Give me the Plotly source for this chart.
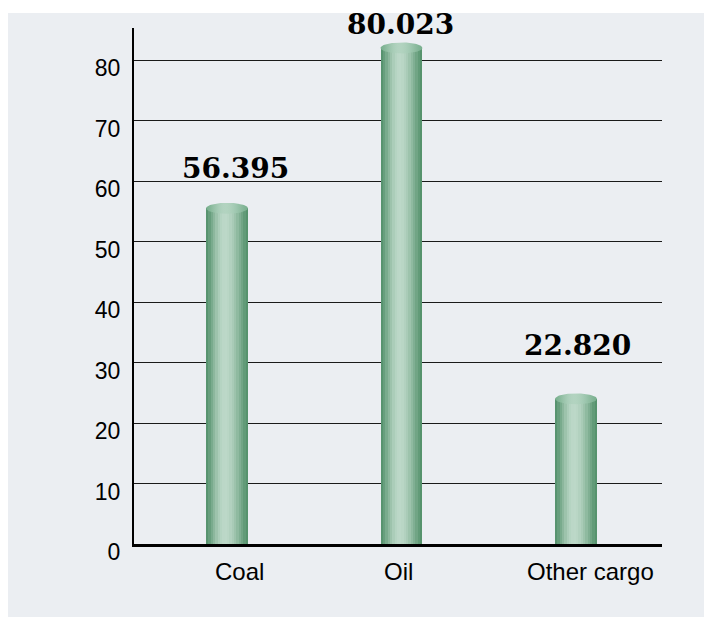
import math
import plotly.graph_objects as go

# ---- data ----
categories = ["Coal", "Oil", "Other cargo"]
bar_values = [55.5, 82.0, 24.0]
value_labels = ["56.395", "80.023", "22.820"]
y_ticks = [0, 10, 20, 30, 40, 50, 60, 70, 80]

# ---- layout constants ----
W, H = 704, 609
L, R, T, B = 126, 50, 20, 73
pw = W - L - R
ph = H - T - B
y_max = 85.3
x_range = [-0.533, 2.493]
bw = 0.24
px_per_y = ph / y_max
N = 18
cap_ry = 5.5 / px_per_y

cat_label_xshift = {"Coal": 12, "Oil": -3, "Other cargo": 15}
val_label_xshift = {"Coal": 8, "Oil": -1, "Other cargo": 2}
val_label_yshift = {"Coal": 40, "Oil": 23, "Other cargo": 53}

xs = list(range(len(categories)))

body_dark = (82, 144, 106)
body_light = (188, 216, 200)
cap_dark = (120, 175, 142)
cap_light = (178, 211, 192)


def profile(t, c=0.45):
    u = t / c if t < c else (1 - t) / (1 - c)
    u = max(0.0, min(1.0, u))
    return math.sin(u * math.pi / 2) ** 1.3


def mix(a, b, f):
    return "rgb(%d,%d,%d)" % tuple(round(a[k] + (b[k] - a[k]) * f) for k in range(3))


fig = go.Figure()

step = bw / N
for j in range(N):
    t = (j + 0.5) / N
    off = -bw / 2 + j * step
    wdt = min(step * 1.3, bw / 2 - off)
    fig.add_trace(go.Bar(
        x=xs, y=bar_values, width=wdt, offset=off,
        marker=dict(color=mix(body_dark, body_light, profile(t)), line=dict(width=0)),
        hoverinfo="skip", showlegend=False,
    ))

cap_scale = [[k / 20, mix(cap_dark, cap_light, profile(k / 20))] for k in range(21)]
for i, v in enumerate(bar_values):
    th = [2 * math.pi * k / 80 for k in range(81)]
    ex = [xs[i] + bw / 2 * math.cos(a) for a in th]
    ey = [v + cap_ry * math.sin(a) for a in th]
    fig.add_trace(go.Scatter(
        x=ex, y=ey, mode="lines", fill="toself",
        line=dict(width=0, color="rgba(0,0,0,0)"),
        fillgradient=dict(type="horizontal", colorscale=cap_scale),
        hoverinfo="skip", showlegend=False,
    ))

annotations = []
for i, c in enumerate(categories):
    annotations.append(dict(
        x=xs[i], y=0, xref="x", yref="y", text=c, showarrow=False,
        yanchor="top", xanchor="center", xshift=cat_label_xshift[c], yshift=-12,
        font=dict(family="Liberation Sans", size=24, color="black"),
    ))
    annotations.append(dict(
        x=xs[i], y=bar_values[i], xref="x", yref="y", text=value_labels[i],
        showarrow=False, yanchor="middle", xanchor="center",
        xshift=val_label_xshift[c], yshift=val_label_yshift[c],
        font=dict(family="DejaVu Serif", size=28, color="black", weight="bold"),
    ))

fig.update_layout(
    width=W, height=H,
    margin=dict(l=L, r=R, t=T, b=B, pad=0),
    paper_bgcolor="white",
    plot_bgcolor="rgba(0,0,0,0)",
    barmode="overlay",
    bargap=0,
    showlegend=False,
    annotations=annotations,
    shapes=[dict(
        type="rect", xref="paper", yref="paper", layer="below",
        x0=-L / pw - 0.01, x1=(W - L) / pw + 0.02,
        y0=-B / ph - 0.02, y1=1 + (T - 5) / ph,
        fillcolor="#ebeef2", line=dict(width=0),
    )],
    xaxis=dict(
        range=x_range, showticklabels=False, showgrid=False, zeroline=False,
        showline=True, linecolor="black", linewidth=2.5, ticks="", fixedrange=True,
    ),
    yaxis=dict(
        range=[0, y_max], tickvals=y_ticks, showgrid=True, gridcolor="#1a1a1a",
        gridwidth=1, zeroline=False, showline=True, linecolor="black", linewidth=2,
        ticks="", ticklabelstandoff=7, ticklabelshift=8,
        tickfont=dict(family="Liberation Sans", size=23, color="black"),
        fixedrange=True,
    ),
)

fig.write_html("out.html")
